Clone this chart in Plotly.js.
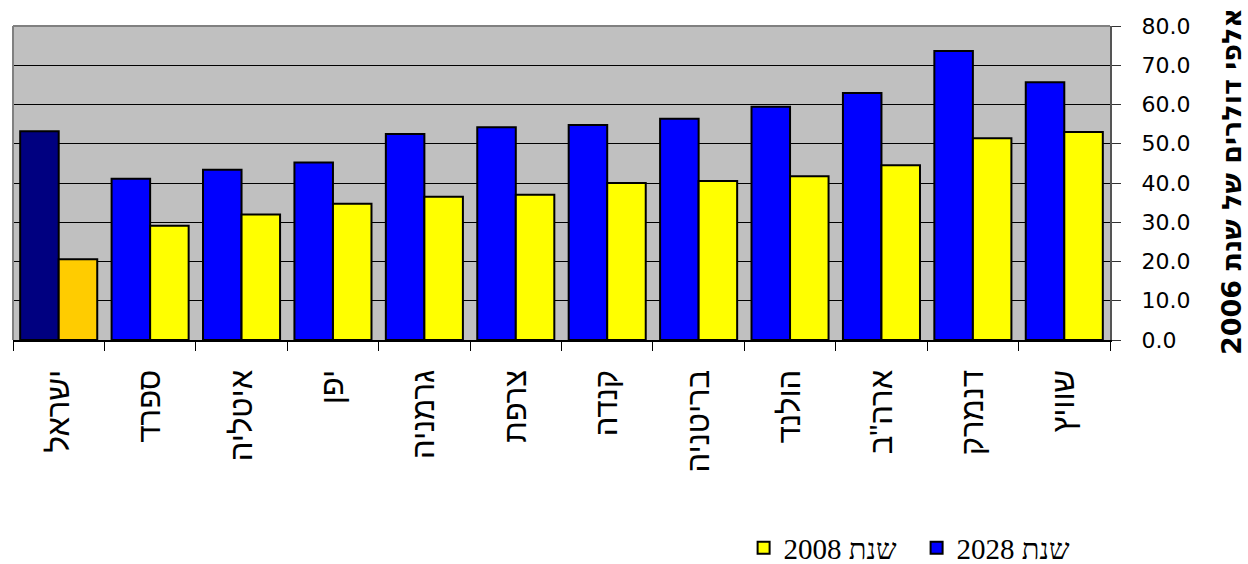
<!DOCTYPE html>
<html>
<head>
<meta charset="utf-8">
<script src="https://cdn.plot.ly/plotly-3.0.1.min.js"></script>
<style>
html,body{margin:0;padding:0;background:#fff;}
#chart{width:1248px;height:564px;}
</style>
</head>
<body>
<div id="chart"></div>
<script>
const categories = ["ישראל","ספרד","איטליה","יפן","גרמניה","צרפת","קנדה","בריטניה","הולנד","ארה\"ב","דנמרק","שוויץ"];
const values2028 = [53.2, 41.1, 43.4, 45.2, 52.5, 54.2, 54.8, 56.4, 59.4, 62.9, 73.6, 65.7];
const values2008 = [20.6, 29.1, 32.0, 34.7, 36.5, 37.0, 40.0, 40.5, 41.7, 44.5, 51.4, 53.0];
const seriesNames = ["2028 שנת", "2008 שנת"];
const yTickVals = [0, 10, 20, 30, 40, 50, 60, 70, 80];
const yTickText = ["0.0","10.0","20.0","30.0","40.0","50.0","60.0","70.0","80.0"];
const yTitle = "2006 אלפי דולרים של שנת";

const blue = "#0000FF", navy = "#000080", yellow = "#FFFF00", orange = "#FFCC00";
// data fed in reverse order so the legend swatch takes a regular (non-Israel) colour;
// the axis keeps the category order through categoryarray.
const xRev = categories.slice().reverse();
const y28Rev = values2028.slice().reverse();
const y08Rev = values2008.slice().reverse();
const c28Rev = xRev.map(c => c === categories[0] ? navy : blue);
const c08Rev = xRev.map(c => c === categories[0] ? orange : yellow);

const traces = [
  {type: "bar", name: seriesNames[0], x: xRev, y: y28Rev,
   marker: {color: c28Rev, line: {color: "#000", width: 2}}, hoverinfo: "x+y"},
  {type: "bar", name: seriesNames[1], x: xRev, y: y08Rev,
   marker: {color: c08Rev, line: {color: "#000", width: 2}}, hoverinfo: "x+y"}
];

const layout = {
  width: 1248, height: 564,
  margin: {l: 13, r: 138, t: 25.5, b: 223.5, autoexpand: false},
  paper_bgcolor: "#fff",
  plot_bgcolor: "#C0C0C0",
  barmode: "group",
  bargap: 0.157,
  bargroupgap: 0,
  showlegend: true,
  legend: {
    orientation: "h", traceorder: "reversed",
    x: 0.666, y: -0.662, xanchor: "left", yanchor: "middle",
    font: {family: "Liberation Serif, serif", size: 29, color: "#000"},
    itemwidth: 30, entrywidth: 128, entrywidthmode: "pixels",
    bgcolor: "rgba(0,0,0,0)"
  },
  xaxis: {
    type: "category",
    categoryorder: "array", categoryarray: categories,
    tickangle: -90,
    tickson: "boundaries",
    ticks: "outside", ticklen: 9, tickcolor: "#000", tickwidth: 1,
    ticklabelstandoff: 16,
    showline: true, linecolor: "#000", linewidth: 1.5,
    showgrid: false,
    tickfont: {family: "Liberation Sans, DejaVu Sans, sans-serif", size: 31, color: "#000"},
    automargin: false
  },
  yaxis: {
    side: "right",
    range: [0, 80],
    tickvals: yTickVals, ticktext: yTickText,
    ticks: "outside", ticklen: 9, tickcolor: "#333", tickwidth: 1,
    ticklabelstandoff: 16,
    showline: true, linecolor: "#555", linewidth: 2,
    showgrid: true, gridcolor: "#000", gridwidth: 1,
    zeroline: false,
    tickfont: {family: "DejaVu Sans, Verdana, sans-serif", size: 22, color: "#000"},
    automargin: false
  },
  shapes: [
    {type: "line", xref: "paper", yref: "paper", x0: 0, x1: 1, y0: 1, y1: 1,
     line: {color: "#808080", width: 2}},
    {type: "line", xref: "paper", yref: "paper", x0: 0, x1: 0, y0: 0, y1: 1,
     line: {color: "#808080", width: 2}}
  ],
  annotations: [
    {text: "<b>" + yTitle + "</b>", xref: "paper", yref: "paper",
     x: (1231 - 13) / 1097, y: (340.5 - 182) / 315, xanchor: "center", yanchor: "middle",
     textangle: -90, showarrow: false,
     font: {family: "DejaVu Sans, sans-serif", size: 27, color: "#000"}}
  ]
};

Plotly.newPlot("chart", traces, layout, {displayModeBar: false, staticPlot: true});
</script>
</body>
</html>
